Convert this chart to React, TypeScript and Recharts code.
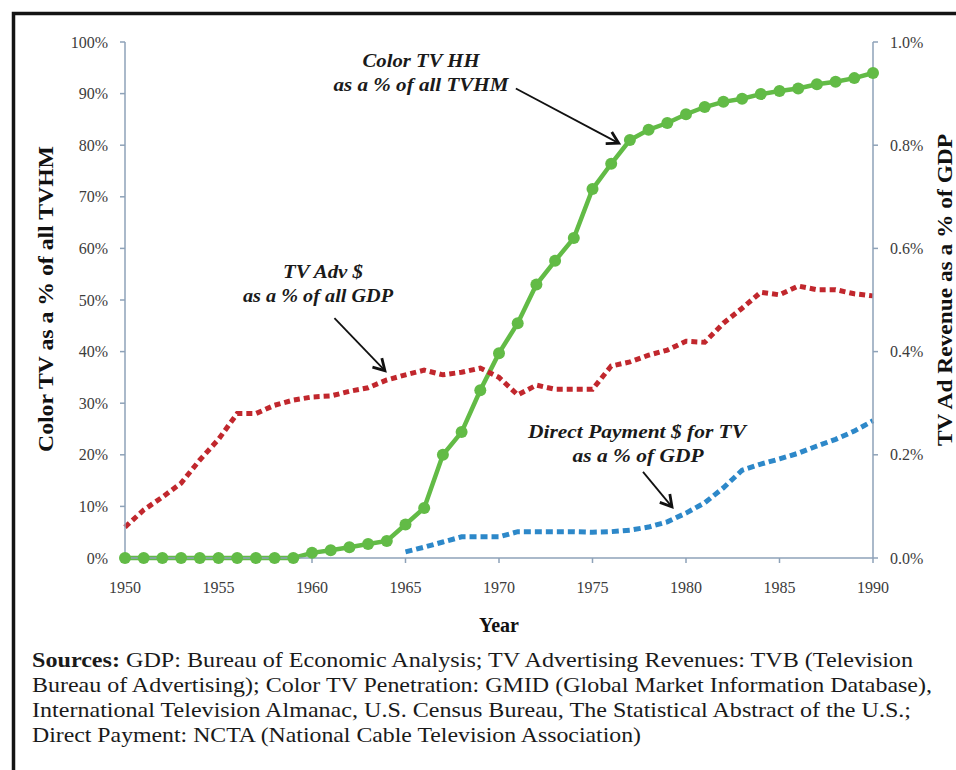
import React from "react";
import { LineChart, Line, XAxis, YAxis, ReferenceLine } from "recharts";

const years = [
  1950, 1951, 1952, 1953, 1954, 1955, 1956, 1957, 1958, 1959,
  1960, 1961, 1962, 1963, 1964, 1965, 1966, 1967, 1968, 1969,
  1970, 1971, 1972, 1973, 1974, 1975, 1976, 1977, 1978, 1979,
  1980, 1981, 1982, 1983, 1984, 1985, 1986, 1987, 1988, 1989, 1990,
];

// Color TV HH as a % of all TV households (left axis, %)
const colorTvShare = [
  0, 0, 0, 0, 0, 0, 0, 0, 0, 0,
  1.0, 1.5, 2.1, 2.7, 3.3, 6.5, 9.7, 20, 24.4, 32.5,
  39.7, 45.5, 53, 57.6, 62, 71.5, 76.4, 81, 83, 84.3,
  86, 87.4, 88.4, 89, 89.9, 90.5, 91, 91.8, 92.3, 93, 94,
];

// TV advertising $ as a % of GDP (right axis, %)
const tvAdShare = [
  0.06, 0.093, 0.118, 0.145, 0.19, 0.23, 0.28, 0.28, 0.296, 0.306,
  0.312, 0.314, 0.323, 0.33, 0.345, 0.355, 0.364, 0.355, 0.36, 0.368,
  0.35, 0.316, 0.335, 0.327, 0.327, 0.327, 0.372, 0.38, 0.393, 0.403,
  0.42, 0.418, 0.455, 0.484, 0.515, 0.51, 0.527, 0.52, 0.52, 0.512, 0.508,
];

// Direct payment $ for TV as a % of GDP (right axis, %)
const directPayShare: (number | null)[] = [
  null, null, null, null, null, null, null, null, null, null,
  null, null, null, null, null, 0.012, 0.021, 0.031, 0.041, 0.041,
  0.041, 0.051, 0.051, 0.051, 0.051, 0.05, 0.051, 0.054, 0.06, 0.07,
  0.087, 0.107, 0.136, 0.17, 0.182, 0.192, 0.203, 0.217, 0.23, 0.246, 0.266,
];

const xTicks = [1950, 1955, 1960, 1965, 1970, 1975, 1980, 1985, 1990];
const leftTicks = [0, 10, 20, 30, 40, 50, 60, 70, 80, 90, 100];
const rightTicks = [0, 0.2, 0.4, 0.6, 0.8, 1.0];

const sourcesLines = [
  "GDP: Bureau of Economic Analysis; TV Advertising Revenues: TVB (Television",
  "Bureau of Advertising); Color TV Penetration: GMID (Global Market Information Database),",
  "International Television Almanac, U.S. Census Bureau, The Statistical Abstract of the U.S.;",
  "Direct Payment: NCTA (National Cable Television Association)",
];

const rows = years.map((year, i) => ({
  year,
  color: colorTvShare[i],
  ad: tvAdShare[i],
  direct: directPayShare[i],
}));

const SERIF = "'Times New Roman', Times, 'Liberation Serif', serif";
const AXIS = "#8ea2b8";
const TICK_TEXT = "#3c3c3c";

const Arrow = (props: any) => {
  const { x1, y1, x2, y2 } = props;
  const ang = Math.atan2(y2 - y1, x2 - x1);
  const L = 13;
  const spread = Math.PI / 6;
  const ax = x2 - L * Math.cos(ang - spread);
  const ay = y2 - L * Math.sin(ang - spread);
  const bx = x2 - L * Math.cos(ang + spread);
  const by = y2 - L * Math.sin(ang + spread);
  return (
    <g>
      <line x1={x1} y1={y1} x2={x2} y2={y2} stroke="#111" strokeWidth={1.8} />
      <path
        d={`M${ax},${ay} L${x2},${y2} L${bx},${by}`}
        fill="none"
        stroke="#111"
        strokeWidth={2.8}
        strokeLinejoin="miter"
      />
    </g>
  );
};

export default function App() {
  const tickStyle = { fontFamily: SERIF, fontSize: 16, fill: TICK_TEXT };
  return (
    <div
      style={{
        position: "absolute",
        left: 0,
        top: 0,
        width: 956,
        height: 770,
        background: "#fff",
        overflow: "hidden",
        fontFamily: SERIF,
      }}
    >
      <div style={{ position: "absolute", left: 0, top: 0 }}>
        <LineChart
          width={956}
          height={770}
          data={rows}
          margin={{ top: 42, right: 23, bottom: 152, left: 65 }}
        >
          <XAxis
            dataKey="year"
            type="number"
            domain={[1950, 1990]}
            ticks={xTicks}
            height={60}
            tick={tickStyle}
            tickSize={5}
            tickMargin={19}
            stroke={AXIS}
            axisLine={{ stroke: AXIS, strokeWidth: 1.5 }}
            tickLine={{ stroke: AXIS, strokeWidth: 1.5 }}
            allowDecimals={false}
          />
          <YAxis
            yAxisId="left"
            orientation="left"
            domain={[0, 100]}
            ticks={leftTicks}
            tickFormatter={(v: number) => `${v}%`}
            width={60}
            tick={tickStyle}
            tickSize={5}
            tickMargin={12}
            axisLine={{ stroke: AXIS, strokeWidth: 1.5 }}
            tickLine={{ stroke: AXIS, strokeWidth: 1.5 }}
          />
          <YAxis
            yAxisId="right"
            orientation="right"
            domain={[0, 1]}
            ticks={rightTicks}
            tickFormatter={(v: number) => `${v.toFixed(1)}%`}
            width={60}
            tick={tickStyle}
            tickSize={5}
            tickMargin={12}
            axisLine={{ stroke: AXIS, strokeWidth: 1.5 }}
            tickLine={{ stroke: AXIS, strokeWidth: 1.5 }}
          />
          <Line
            yAxisId="left"
            dataKey="color"
            stroke="#62bb46"
            strokeWidth={4.5}
            dot={{ r: 6, fill: "#62bb46", stroke: "none" }}
            isAnimationActive={false}
          />
          <Line
            yAxisId="right"
            dataKey="ad"
            stroke="#c1272d"
            strokeWidth={5}
            strokeDasharray="6 4"
            dot={false}
            isAnimationActive={false}
          />
          <Line
            yAxisId="right"
            dataKey="direct"
            stroke="#2d88c9"
            strokeWidth={5}
            strokeDasharray="7 4"
            dot={false}
            connectNulls={false}
            isAnimationActive={false}
          />
          <ReferenceLine
            yAxisId="left"
            segment={[
              { x: 1970.9, y: 91 },
              { x: 1976.4, y: 80.4 },
            ]}
            shape={Arrow}
          />
          <ReferenceLine
            yAxisId="left"
            segment={[
              { x: 1961.2, y: 46.5 },
              { x: 1963.9, y: 36.3 },
            ]}
            shape={Arrow}
          />
          <ReferenceLine
            yAxisId="left"
            segment={[
              { x: 1977.7, y: 16.7 },
              { x: 1979.25, y: 9.9 },
            ]}
            shape={Arrow}
          />
        </LineChart>
      </div>
      <svg
        width={956}
        height={770}
        style={{ position: "absolute", left: 0, top: 0, pointerEvents: "none" }}
      >
        {/* frame */}
        <path d="M13.5,770 L13.5,13.5 L956,13.5" fill="none" stroke="#141414" strokeWidth={3.5} />

        {/* axis titles */}
        <text
          transform="translate(53,299) rotate(-90)"
          textAnchor="middle"
          fontFamily={SERIF}
          fontWeight="bold"
          fontSize={20}
          fill="#111"
          textLength={306}
          lengthAdjust="spacingAndGlyphs"
        >
          Color TV as a % of all TVHM
        </text>
        <text
          transform="translate(952,290) rotate(-90)"
          textAnchor="middle"
          fontFamily={SERIF}
          fontWeight="bold"
          fontSize={20}
          fill="#111"
          textLength={312}
          lengthAdjust="spacingAndGlyphs"
        >
          TV Ad Revenue as a % of GDP
        </text>
        <text
          x={499}
          y={632}
          textAnchor="middle"
          fontFamily={SERIF}
          fontWeight="bold"
          fontSize={20}
          fill="#111"
        >
          Year
        </text>

        {/* annotations */}
        <g fontFamily={SERIF} fontWeight="bold" fontStyle="italic" fontSize={19} fill="#1a1a1a">
          <text x={421} y={67} textAnchor="middle" textLength={117} lengthAdjust="spacingAndGlyphs">
            Color TV HH
          </text>
          <text x={421} y={91} textAnchor="middle" textLength={175} lengthAdjust="spacingAndGlyphs">
            as a % of all TVHM
          </text>
          <text x={323} y={278} textAnchor="middle" textLength={80} lengthAdjust="spacingAndGlyphs">
            TV Adv $
          </text>
          <text x={318} y={302} textAnchor="middle" textLength={150} lengthAdjust="spacingAndGlyphs">
            as a % of all GDP
          </text>
          <text x={637} y={438} textAnchor="middle" textLength={218} lengthAdjust="spacingAndGlyphs">
            Direct Payment $ for TV
          </text>
          <text x={638} y={462} textAnchor="middle" textLength={131} lengthAdjust="spacingAndGlyphs">
            as a % of GDP
          </text>
        </g>

        {/* sources */}
        <g fontFamily={SERIF} fontSize={21} fill="#1a1a1a">
          <text x={32} y={667} textLength={881} lengthAdjust="spacingAndGlyphs">
            <tspan fontWeight="bold">Sources: </tspan>
            {sourcesLines[0]}
          </text>
          <text x={32} y={692} textLength={900} lengthAdjust="spacingAndGlyphs">
            {sourcesLines[1]}
          </text>
          <text x={32} y={717} textLength={879} lengthAdjust="spacingAndGlyphs">
            {sourcesLines[2]}
          </text>
          <text x={32} y={742} textLength={609} lengthAdjust="spacingAndGlyphs">
            {sourcesLines[3]}
          </text>
        </g>
      </svg>
    </div>
  );
}
